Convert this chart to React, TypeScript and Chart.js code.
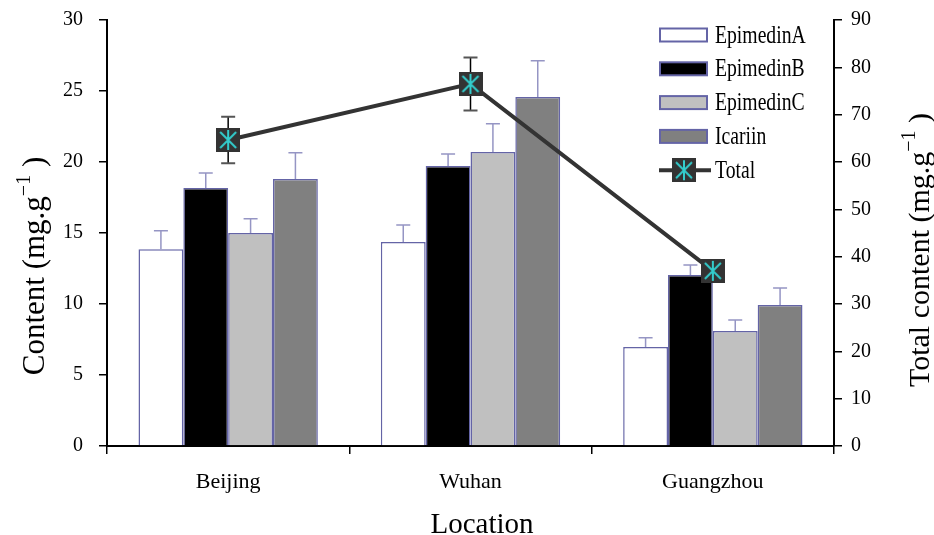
import React, { useEffect, useRef } from "react";
import { Chart, registerables } from "chart.js";

Chart.register(...registerables);

const categories = ["Beijing", "Wuhan", "Guangzhou"];
const seriesNames = ["EpimedinA", "EpimedinB", "EpimedinC", "Icariin"];
const totalName = "Total";

const epimedinA = [13.85, 14.37, 6.97];
const epimedinB = [18.17, 19.72, 12.04];
const epimedinC = [15.0, 20.7, 8.1];
const icariin = [18.8, 24.58, 9.93];

const errA = [1.3, 1.2, 0.65];
const errB = [1.05, 0.85, 0.7];
const errC = [1.0, 2.0, 0.77];
const errI = [1.85, 2.55, 1.2];

const total = [64.65, 76.5, 37.0];
const errTotal = [4.9, 5.6, 1.5];

const leftMax = 30;
const leftStep = 5;
const rightMax = 90;
const rightStep = 10;

const barColors = ["#ffffff", "#000000", "#c0c0c0", "#808080"];
const barBorder = "#6464a6";
const errColor = "#9595c4";
const lineColor = "#333333";
const markerFill = "#333333";
const markerStar = "#33cccc";
const SERIF = '"Liberation Serif", "Times New Roman", serif';

function makeMarker(size: number) {
  const c = document.createElement("canvas");
  c.width = size;
  c.height = size;
  const g = c.getContext("2d")!;
  g.fillStyle = markerFill;
  g.fillRect(0, 0, size, size);
  g.strokeStyle = markerStar;
  g.lineWidth = 2;
  g.beginPath();
  g.moveTo(size / 2, 2);
  g.lineTo(size / 2, size - 2);
  g.moveTo(4, 4);
  g.lineTo(size - 4, size - 4);
  g.moveTo(size - 4, 4);
  g.lineTo(4, size - 4);
  g.stroke();
  return c;
}

type Part = { text: string; size: number; dy: number };

function drawRich(ctx: CanvasRenderingContext2D, parts: Part[], cx: number, cy: number, rot: number) {
  ctx.save();
  ctx.translate(cx, cy);
  ctx.rotate(rot);
  ctx.fillStyle = "#000";
  ctx.textBaseline = "alphabetic";
  ctx.textAlign = "left";
  let tw = 0;
  const widths: number[] = [];
  for (const p of parts) {
    ctx.font = `${p.size}px ${SERIF}`;
    const w = ctx.measureText(p.text).width;
    widths.push(w);
    tw += w;
  }
  let x = -tw / 2;
  const base = parts[0].size * 0.33;
  parts.forEach((p, i) => {
    ctx.font = `${p.size}px ${SERIF}`;
    ctx.fillText(p.text, x, base + p.dy);
    x += widths[i];
  });
  ctx.restore();
}

export default function App() {
  const ref = useRef<HTMLCanvasElement | null>(null);

  useEffect(() => {
    const canvas = ref.current;
    if (!canvas) return;
    const marker = makeMarker(24);
    const barErrors = [errA, errB, errC, errI];

    const errorBarPlugin = {
      id: "errorBars",
      beforeDatasetDraw(chart: any, args: any) {
        const ds = chart.data.datasets[args.index];
        if (ds.type !== "line") return;
        const meta = chart.getDatasetMeta(args.index);
        const ys = chart.scales.y1;
        const ctx = chart.ctx;
        ctx.save();
        meta.data.forEach((el: any, j: number) => {
          const v = total[j];
          const e = errTotal[j];
          const yt = ys.getPixelForValue(v + e);
          const yb = ys.getPixelForValue(v - e);
          ctx.strokeStyle = "#000";
          ctx.lineWidth = 1.5;
          ctx.beginPath();
          ctx.moveTo(el.x, yt);
          ctx.lineTo(el.x, yb);
          ctx.stroke();
          ctx.strokeStyle = "#555";
          ctx.lineWidth = 2;
          ctx.beginPath();
          ctx.moveTo(el.x - 7, yt);
          ctx.lineTo(el.x + 7, yt);
          ctx.moveTo(el.x - 7, yb);
          ctx.lineTo(el.x + 7, yb);
          ctx.stroke();
        });
        ctx.restore();
      },
      afterDatasetDraw(chart: any, args: any) {
        const ds = chart.data.datasets[args.index];
        if (ds.type === "line") return;
        const errs = barErrors[ds.seriesIndex];
        const meta = chart.getDatasetMeta(args.index);
        const ys = chart.scales.y;
        const ctx = chart.ctx;
        ctx.save();
        ctx.strokeStyle = errColor;
        ctx.lineWidth = 1.5;
        meta.data.forEach((el: any, j: number) => {
          const v = ds.data[j];
          const yt = ys.getPixelForValue(v + errs[j]);
          ctx.beginPath();
          ctx.moveTo(el.x, el.y);
          ctx.lineTo(el.x, yt);
          ctx.moveTo(el.x - 7, yt);
          ctx.lineTo(el.x + 7, yt);
          ctx.stroke();
        });
        ctx.restore();
      },
    };

    const decorPlugin = {
      id: "decor",
      afterDraw(chart: any) {
        const ctx = chart.ctx as CanvasRenderingContext2D;
        const x0 = 660;
        const y0 = 35;
        const step = 33.8;
        const labels = [...seriesNames, totalName];
        labels.forEach((lab, i) => {
          const cy = y0 + i * step;
          ctx.save();
          if (i < seriesNames.length) {
            ctx.fillStyle = barColors[i];
            ctx.fillRect(x0, cy - 6.5, 47, 13);
            ctx.strokeStyle = barBorder;
            ctx.lineWidth = 2;
            ctx.strokeRect(x0, cy - 6.5, 47, 13);
          } else {
            ctx.strokeStyle = lineColor;
            ctx.lineWidth = 4;
            ctx.beginPath();
            ctx.moveTo(x0 - 1, cy);
            ctx.lineTo(x0 + 51, cy);
            ctx.stroke();
            ctx.drawImage(marker, x0 + 24 - 12, cy - 12);
          }
          ctx.translate(x0 + 55, cy);
          ctx.scale(0.82, 1.05);
          ctx.font = `24px ${SERIF}`;
          ctx.fillStyle = "#000";
          ctx.textBaseline = "middle";
          ctx.textAlign = "left";
          ctx.fillText(lab, 0, 1);
          ctx.restore();
        });
        drawRich(
          ctx,
          [
            { text: "Content (mg.g", size: 31, dy: 0 },
            { text: "\u22121", size: 20, dy: -14 },
            { text: " )", size: 31, dy: 0 },
          ],
          34,
          266,
          -Math.PI / 2
        );
        drawRich(
          ctx,
          [
            { text: "Total content (mg.g", size: 30, dy: 0 },
            { text: "\u22121", size: 20, dy: -14 },
            { text: " )", size: 30, dy: 0 },
          ],
          919,
          250,
          -Math.PI / 2
        );
        drawRich(ctx, [{ text: "Location", size: 29, dy: 0 }], 482, 523, 0);
      },
    };

    const barData = [epimedinA, epimedinB, epimedinC, icariin];

    const datasets: any[] = [
      {
        type: "line",
        label: totalName,
        data: total,
        yAxisID: "y1",
        borderColor: lineColor,
        borderWidth: 4,
        pointStyle: marker,
        pointRadius: 12,
        order: 0,
      },
      ...barData.map((d, i) => ({
        type: "bar",
        label: seriesNames[i],
        data: d,
        seriesIndex: i,
        yAxisID: "y",
        backgroundColor: barColors[i],
        borderColor: barBorder,
        borderWidth: 1.5,
        categoryPercentage: 0.74,
        barPercentage: 1.0,
        order: 1,
      })),
    ];

    const zeroPad = (s: any) => {
      s.paddingTop = 0;
      s.paddingBottom = 0;
      s.paddingLeft = 0;
      s.paddingRight = 0;
    };

    const chart = new Chart(canvas, {
      type: "bar",
      data: { labels: categories, datasets },
      options: {
        responsive: false,
        animation: false,
        layout: { padding: { top: 20, left: 0, right: 0, bottom: 0 } },
        plugins: {
          legend: { display: false },
          tooltip: { enabled: false },
        },
        scales: {
          x: {
            type: "category",
            position: "bottom",
            grid: {
              display: true,
              drawOnChartArea: false,
              drawTicks: true,
              tickLength: 8,
              color: "#000",
              lineWidth: 1.5,
              offset: true,
            },
            border: { display: true, color: "#000", width: 2 },
            ticks: { color: "#000", font: { family: SERIF, size: 22 }, padding: 15, maxRotation: 0 },
            afterFit: (s: any) => {
              s.height = 89;
              zeroPad(s);
            },
          },
          y: {
            type: "linear",
            position: "left",
            min: 0,
            max: leftMax,
            grid: {
              display: true,
              drawOnChartArea: false,
              drawTicks: true,
              tickLength: 8,
              color: "#000",
              lineWidth: 1.5,
            },
            border: { display: true, color: "#000", width: 2 },
            ticks: { stepSize: leftStep, color: "#000", font: { family: SERIF, size: 20 }, padding: 16 },
            afterFit: (s: any) => {
              s.width = 107;
              zeroPad(s);
            },
          },
          y1: {
            type: "linear",
            position: "right",
            min: 0,
            max: rightMax,
            grid: {
              display: true,
              drawOnChartArea: false,
              drawTicks: true,
              tickLength: 8,
              color: "#000",
              lineWidth: 1.5,
            },
            border: { display: true, color: "#000", width: 2 },
            ticks: { stepSize: rightStep, color: "#000", font: { family: SERIF, size: 20 }, padding: 9 },
            afterFit: (s: any) => {
              s.width = 100;
              zeroPad(s);
            },
          },
        },
      },
      plugins: [errorBarPlugin, decorPlugin],
    });
    return () => chart.destroy();
  }, []);

  return (
    <div style={{ position: "fixed", left: 0, top: 0, width: 934, height: 535, background: "#fff" }}>
      <canvas ref={ref} width={934} height={535} style={{ display: "block" }} />
    </div>
  );
}
